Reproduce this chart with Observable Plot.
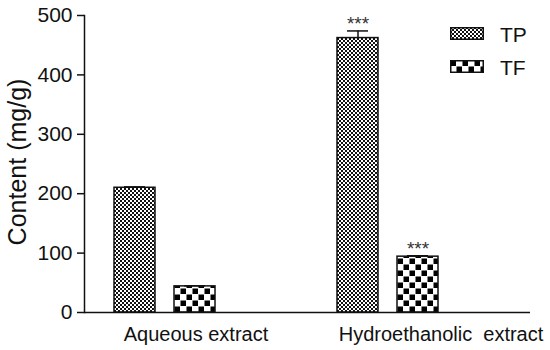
<!DOCTYPE html>
<html><head><meta charset="utf-8">
<script src="https://cdn.jsdelivr.net/npm/d3@7"></script>
<script src="https://cdn.jsdelivr.net/npm/@observablehq/plot@0.6"></script>
<style>
body{margin:0;background:#fff;}
#wrap{position:relative;width:550px;height:350px;font-family:"Liberation Sans",Arial,sans-serif;color:#111;}
.sw{position:absolute;}
.lt{position:absolute;font-size:21px;line-height:1;}
</style></head><body><div id="wrap"></div>
<script>
const groups = ["Aqueous extract", "Hydroethanolic extract"];
const groupLabels = ["Aqueous extract", "Hydroethanolic\u00a0 extract"];
const series = ["TP", "TF"];
const tpValues = [210, 462];
const tfValues = [44, 94];
const tpErrors = [1.5, 12];
const tfErrors = [1, 1.5];
const tpSig = ["", "***"];
const tfSig = ["", "***"];
const yTicks = [0, 100, 200, 300, 400, 500];
const yLabel = "Content (mg/g)";

const data = groups.flatMap((g, i) => [
  {group: g, series: "TP", value: tpValues[i], err: tpErrors[i], sig: tpSig[i]},
  {group: g, series: "TF", value: tfValues[i], err: tfErrors[i], sig: tfSig[i]}
]);

const ink = "#111";
const chart = Plot.plot({
  width: 550, height: 350,
  marginLeft: 84, marginRight: 20, marginTop: 15, marginBottom: 38,
  style: {fontFamily: '"Liberation Sans", Arial, sans-serif', color: ink, background: "white", overflow: "visible"},
  fx: {domain: groups, padding: 0, label: null},
  x: {domain: series, paddingInner: 0.322, paddingOuter: 1.0, align: 0.247, axis: null},
  y: {domain: [0, 500], label: null},
  color: {type: "ordinal", domain: series, range: ["url(#tpPat)", "url(#tfPat)"]},
  marks: [
    Plot.barY(data, {fx: "group", x: "series", y: "value", fill: "series", stroke: ink, strokeWidth: 1.5}),
    Plot.ruleX(data, {fx: "group", x: "series", y1: "value", y2: d => d.value + d.err, stroke: ink, strokeWidth: 1.5}),
    Plot.tickY(data, {fx: "group", x: "series", y: d => d.value + d.err, stroke: ink, strokeWidth: 1.5, inset: 10}),
    Plot.text(data, {fx: "group", x: "series", y: d => d.value + d.err, text: "sig", lineAnchor: "bottom", dy: -1, fontSize: 19, fill: "#333"}),
    Plot.ruleY([0], {stroke: ink, strokeWidth: 1.5}),
    Plot.frame({anchor: "left", facet: "super", stroke: ink, strokeWidth: 1.5}),
    Plot.axisY({ticks: yTicks, tickSize: 7, tickPadding: 5, fontSize: 21, label: null, strokeWidth: 1.5}),
    Plot.axisFx({anchor: "bottom", ticks: [groups[0]], tickSize: 0, tickPadding: 14, fontSize: 20, label: null, tickFormat: d => groupLabels[groups.indexOf(d)]}),
    Plot.axisFx({anchor: "bottom", ticks: [groups[1]], tickSize: 0, tickPadding: 14, fontSize: 20, label: null, dx: 22, tickFormat: d => groupLabels[groups.indexOf(d)]}),
    Plot.text([yLabel], {fx: () => groups[0], frameAnchor: "left", textAnchor: "middle", rotate: -90, dx: -67, dy: -2, text: d => d, fontSize: 25})
  ]
});

const patDefs = `
<pattern id="tpPat" patternUnits="userSpaceOnUse" width="4" height="4">
  <rect width="4" height="4" fill="#fff"/>
  <rect x="0" y="0" width="2" height="2" fill="#111"/>
  <rect x="2" y="2" width="2" height="2" fill="#111"/>
</pattern>
<pattern id="tfPat" patternUnits="userSpaceOnUse" width="12" height="12">
  <rect width="12" height="12" fill="#fff"/>
  <rect x="0.5" y="0.5" width="5.5" height="5.5" fill="#000"/>
  <rect x="6.5" y="6.5" width="5.5" height="5.5" fill="#000"/>
</pattern>`;
d3.select(chart).insert("defs", ":first-child").html(patDefs);

const wrap = document.getElementById("wrap");
wrap.appendChild(chart);

// legend
const legendItems = [
  {label: series[0], fill: "url(#tpPat)", top: 27},
  {label: series[1], fill: "url(#tfPat)", top: 60}
];
legendItems.forEach(it => {
  const s = d3.create("svg").attr("class", "sw").attr("width", 34).attr("height", 13)
    .style("left", "450px").style("top", it.top + "px");
  s.append("rect").attr("x", 0.75).attr("y", 0.75).attr("width", 32.5).attr("height", 11.5)
    .attr("fill", it.fill).attr("stroke", ink).attr("stroke-width", 1.5);
  wrap.appendChild(s.node());
  const t = document.createElement("div");
  t.className = "lt";
  t.textContent = it.label;
  t.style.left = "500px";
  t.style.top = (it.top - 3) + "px";
  wrap.appendChild(t);
});
</script></body></html>
